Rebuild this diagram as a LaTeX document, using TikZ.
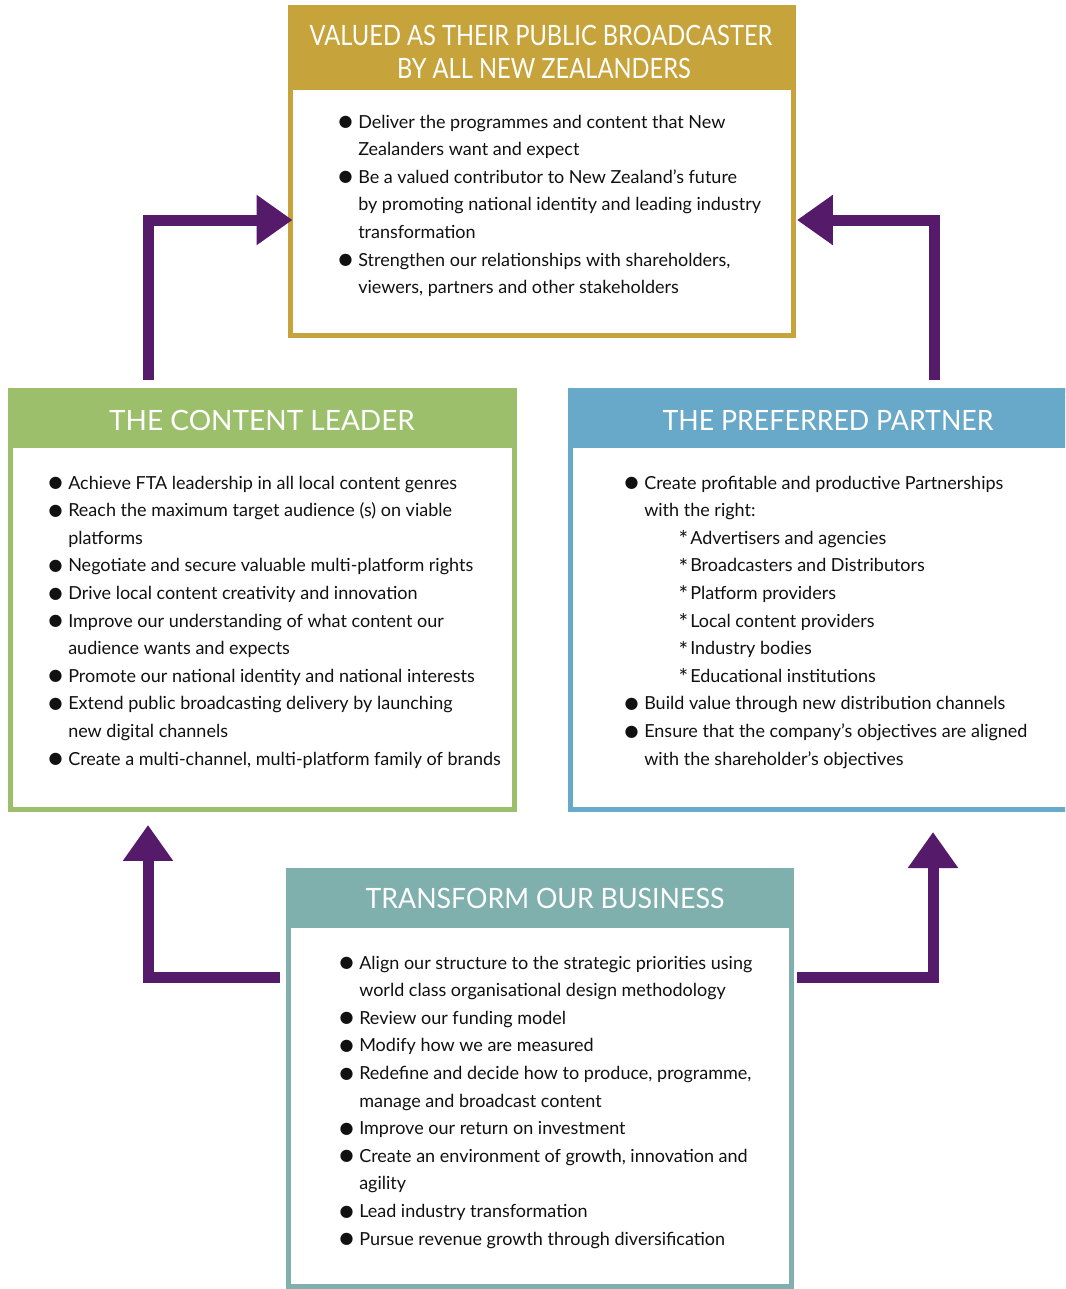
\documentclass[tikz,border=0pt]{standalone}
\usepackage{fontspec}
\setmainfont{Lato}
\newfontfamily\bulfont{DejaVu Sans}
\newfontfamily\headA{Lato}[FakeStretch=0.845]
\newfontfamily\headB{Lato}[FakeStretch=0.955]
\usetikzlibrary{arrows.meta,fit}
\definecolor{cgold}{HTML}{C6A43B}
\definecolor{cgreen}{HTML}{9CBF6B}
\definecolor{cblue}{HTML}{68A8C8}
\definecolor{cteal}{HTML}{80B0AE}
\definecolor{cpurple}{HTML}{561A6B}
\definecolor{ctext}{HTML}{111111}
\newcommand\bodyfont{\fontsize{13.5pt}{20.7pt}\selectfont}
\newcommand\textblock[1]{\vtop{\hsize=700pt\parindent=0pt\parskip=0pt\rightskip=0pt plus 1fil\bodyfont #1\par}}
\newcommand\bul{\leavevmode\llap{\raisebox{1.0pt}{\bulfont\fontsize{12pt}{12pt}\selectfont ●}\hspace{4.2pt}}}
\newcommand\sub{\hspace*{34.5pt}\llap{\raisebox{-2.6pt}{\fontsize{17pt}{17pt}\selectfont *}\hspace{1.6pt}}}
\tikzset{
  x=0.75pt, y=-0.75pt,
  box/.style={draw=#1, line width=3.75pt, inner sep=0pt, outer sep=0pt},
  head/.style={text=white, font=\fontsize{21pt}{26pt}\selectfont, inner sep=0pt, anchor=base},
  body/.style={anchor=base west, inner sep=0pt, text=ctext},
  arr/.style={draw=cpurple, line width=8.25pt, line join=miter, -{Triangle[length=27pt,width=36pt]}}
}
\begin{document}
\begin{tikzpicture}
\useasboundingbox (0,0) rectangle (1065,1289);
\clip (0,0) rectangle (1065,1289);
\fill[white] (0,0) rectangle (1065,1289);
% header bands
\fill[cgold]  (288,5)   rectangle (796,90);
\fill[cgreen] (8,388)   rectangle (517,448);
\fill[cblue]  (568,388) rectangle (1085,448);
\fill[cteal]  (286,868) rectangle (794,928);
% boxes
\node[box=cgold,  fit={(290.5,7.5) (793.5,335.5)}] (top) {};
\node[box=cgreen, fit={(10.5,390.5) (514.5,809.5)}] (cl) {};
\node[box=cblue,  fit={(570.5,390.5) (1085,809.5)}] (cp) {};
\node[box=cteal,  fit={(288.5,870.5) (791.5,1286.5)}] (tb) {};
% headers
\node[head, font=\headA\fontsize{21pt}{26pt}\selectfont] (th1) at (541,45) {VALUED AS THEIR PUBLIC BROADCASTER};
\node[head, font=\headA\fontsize{21pt}{26pt}\selectfont] (th2) at (544,78) {BY ALL NEW ZEALANDERS};
\node[head] (clh) at (262,430) {THE CONTENT LEADER};
\node[head, font=\headB\fontsize{21pt}{26pt}\selectfont] (cph) at (828,430) {THE PREFERRED PARTNER};
\node[head, font=\headB\fontsize{21pt}{26pt}\selectfont] (tbh) at (545,908) {TRANSFORM OUR BUSINESS};
% bodies
\node[body] (tt) at (358,128) {\textblock{%
\bul Deliver the programmes and content that New\\
Zealanders want and expect\\
\bul Be a valued contributor to New Zealand’s future\\
by promoting national identity and leading industry\\
transformation\\
\bul Strengthen our relationships with shareholders,\\
viewers, partners and other stakeholders}};
\node[body] (clt) at (68,489) {\textblock{%
\bul Achieve FTA leadership in all local content genres\\
\bul Reach the maximum target audience (s) on viable\\
platforms\\
\bul Negotiate and secure valuable multi-platform rights\\
\bul Drive local content creativity and innovation\\
\bul Improve our understanding of what content our\\
audience wants and expects\\
\bul Promote our national identity and national interests\\
\bul Extend public broadcasting delivery by launching\\
new digital channels\\
\bul Create a multi-channel, multi-platform family of brands}};
\node[body] (cpt) at (644,489) {\textblock{%
\bul Create profitable and productive Partnerships\\
with the right:\\
\sub Advertisers and agencies\\
\sub Broadcasters and Distributors\\
\sub Platform providers\\
\sub Local content providers\\
\sub Industry bodies\\
\sub Educational institutions\\
\bul Build value through new distribution channels\\
\bul Ensure that the company’s objectives are aligned\\
with the shareholder’s objectives}};
\node[body] (tbt) at (359,969) {\textblock{%
\bul Align our structure to the strategic priorities using\\
world class organisational design methodology\\
\bul Review our funding model\\
\bul Modify how we are measured\\
\bul Redefine and decide how to produce, programme,\\
manage and broadcast content\\
\bul Improve our return on investment\\
\bul Create an environment of growth, innovation and\\
agility\\
\bul Lead industry transformation\\
\bul Pursue revenue growth through diversification}};
% arrows
\coordinate (k1) at (148,220);
\coordinate (k2) at (934,220);
\coordinate (k3) at (148,977);
\coordinate (k4) at (933,977);
\draw[arr, shorten <=7.9pt, shorten >=-1.5pt] (cl.north -| k1) |- (top.west |- k1);
\draw[arr, shorten <=7.9pt, shorten >=2.6pt] (cp.north -| k2) |- (top.east |- k2);
\draw[arr, shorten <=6.4pt, shorten >=11.6pt] (tb.west |- k3) -| (cl.south -| k3);
\draw[arr, shorten <=4.1pt, shorten >=16.9pt] (tb.east |- k4) -| (cp.south -| k4);
\end{tikzpicture}
\end{document}
